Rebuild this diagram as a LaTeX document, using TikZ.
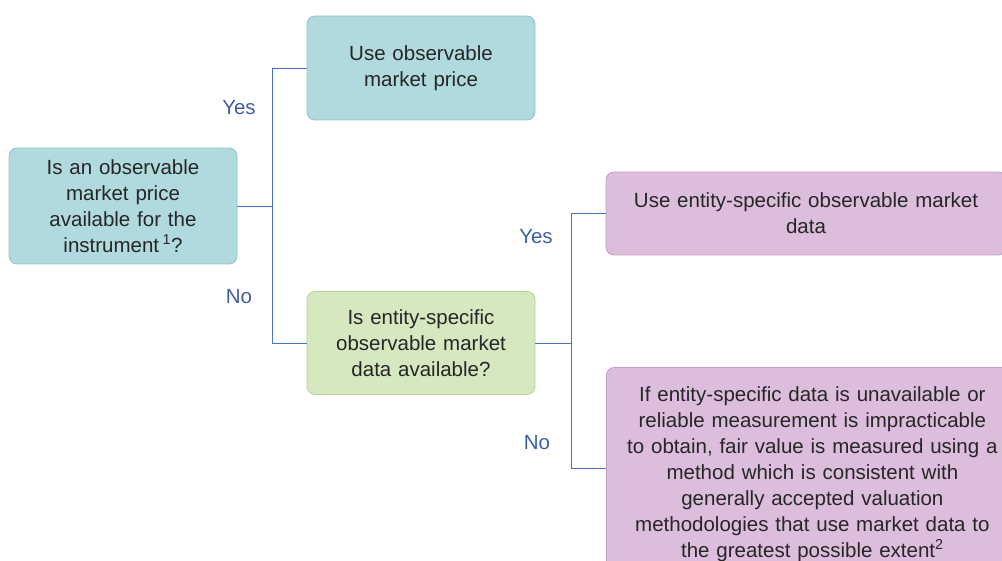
\documentclass[tikz,border=0pt]{standalone}
\usepackage{fontspec}
\setmainfont{Liberation Sans}
\usepackage{tikz}
\usetikzlibrary{positioning, calc}
\usepackage{xcolor}

\definecolor{tealfill}{HTML}{B1DADF}
\definecolor{tealline}{HTML}{8FC4CB}
\definecolor{greenfill}{HTML}{D5E8C0}
\definecolor{greenline}{HTML}{B3D495}
\definecolor{purplefill}{HTML}{DCBEDC}
\definecolor{purpleline}{HTML}{C49CC6}
\definecolor{linkblue}{HTML}{4A72C0}
\definecolor{labelblue}{HTML}{3E5FA6}

\begin{document}
\begin{tikzpicture}[
    x=1pt, y=-1pt,
    font=\fontsize{20.5}{26}\selectfont,
    box/.style={rounded corners=8pt, line width=0.8pt, align=center, inner sep=0pt, text=black!85},
    question/.style={box, fill=tealfill, draw=tealline},
    checkbox/.style={box, fill=greenfill, draw=greenline},
    resultbox/.style={box, fill=purplefill, draw=purpleline},
    link/.style={draw=linkblue, line width=0.8pt},
    answer/.style={text=labelblue}
]
    \useasboundingbox (0,0) rectangle (1002,561);
    \clip (0,0) rectangle (1002,561);

    % Define nodes
    \node[question, minimum width=228pt, minimum height=116pt, text width=220pt] (price_q) at (123,206)
        {Is an observable\\market price\\available for the\\instrument\,\textsuperscript{1}?};
    \node[question, minimum width=228pt, minimum height=104pt, text width=220pt] (use_price) at (421,68)
        {Use observable\\market price};
    \node[checkbox, minimum width=228pt, minimum height=103pt, text width=220pt] (data_q) at (421,343)
        {Is entity-specific\\observable market\\data available?};
    \node[resultbox, minimum width=400pt, minimum height=83pt, text width=390pt] (use_data) at (806,213.5)
        {Use entity-specific observable market\\data};
    \node[resultbox, minimum width=412pt, minimum height=213pt, text width=400pt, anchor=north west] (fallback) at (606,367)
        {If entity-specific data is unavailable or\\reliable measurement is impracticable\\to obtain, fair value is measured using a\\method which is consistent with\\generally accepted valuation\\methodologies that use market data to\\the greatest possible extent\textsuperscript{2}\\[6pt]};

    % Junctions
    \coordinate (split_a) at ($(price_q.east)+(35,0)$);
    \coordinate (split_b) at ($(data_q.east)+(36,0)$);
    \coordinate (fallback_in) at (606,468);

    % Connectors
    \path[link] (price_q.east) -- (split_a);
    \path[link] (split_a) |- (use_price.west);
    \path[link] (split_a) |- (data_q.west);
    \path[link] (data_q.east) -- (split_b);
    \path[link] (split_b) |- (use_data.west);
    \path[link] (split_b) |- (fallback_in);

    % Labels
    \node[answer] (yes_a) at (239,108) {Yes};
    \node[answer] (no_a) at (239,297) {No};
    \node[answer] (yes_b) at (536,237) {Yes};
    \node[answer] (no_b) at (537,443) {No};
\end{tikzpicture}
\end{document}
